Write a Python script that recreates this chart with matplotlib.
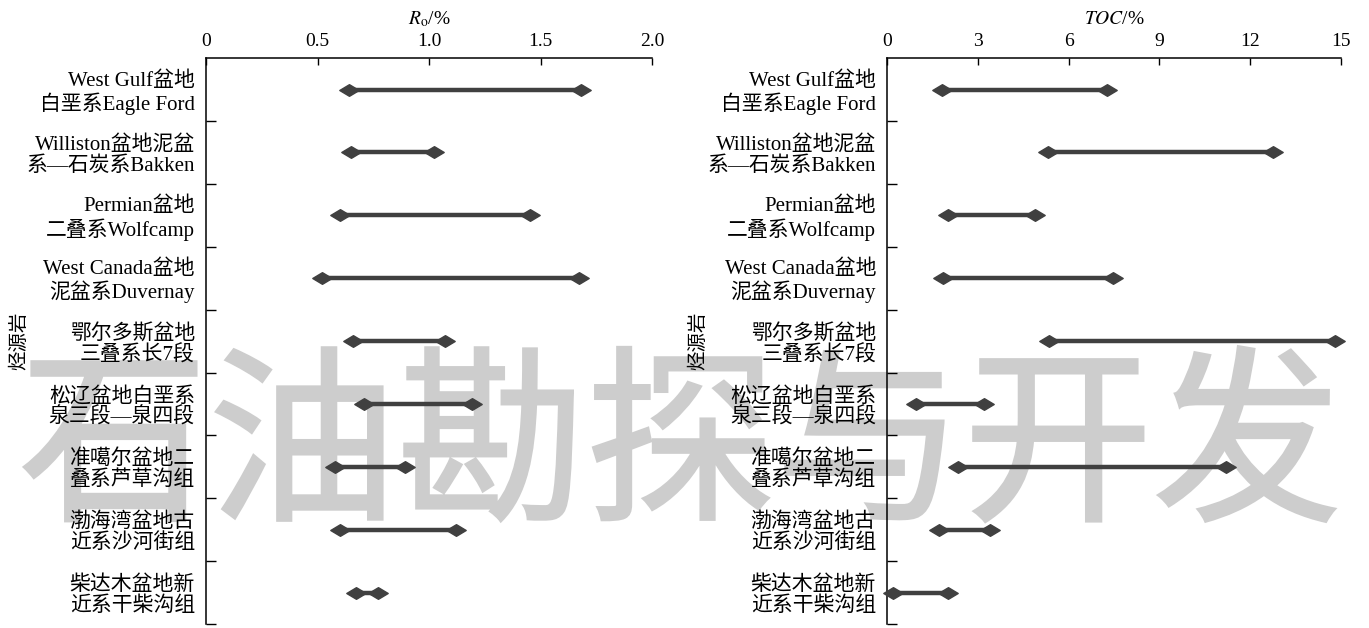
import matplotlib
matplotlib.use("Agg")
import matplotlib.pyplot as plt
import matplotlib.patheffects as pe
from matplotlib.path import Path

# Source rock names (top to bottom)
source_rocks = [
    "West Gulf盆地\n白垩系Eagle Ford",
    "Williston盆地泥盆\n系—石炭系Bakken",
    "Permian盆地\n二叠系Wolfcamp",
    "West Canada盆地\n泥盆系Duvernay",
    "鄂尔多斯盆地\n三叠系长7段",
    "松辽盆地白垩系\n泉三段—泉四段",
    "准噶尔盆地二\n叠系芦草沟组",
    "渤海湾盆地古\n近系沙河街组",
    "柴达木盆地新\n近系干柴沟组",
]

# Ro range (%)
ro_min = [0.64, 0.65, 0.60, 0.52, 0.66, 0.71, 0.58, 0.60, 0.67]
ro_max = [1.68, 1.02, 1.45, 1.67, 1.07, 1.19, 0.89, 1.12, 0.77]

# TOC range (%)
toc_min = [1.8, 5.3, 2.0, 1.85, 5.35, 0.95, 2.35, 1.7, 0.2]
toc_max = [7.25, 12.75, 4.9, 7.45, 14.8, 3.2, 11.2, 3.4, 2.0]

ro_ticks = [0, 0.5, 1.0, 1.5, 2.0]
ro_ticklabels = ["0", "0.5", "1.0", "1.5", "2.0"]
toc_ticks = [0, 3, 6, 9, 12, 15]

plt.rcParams['font.family'] = ['Liberation Serif', 'Noto Sans CJK SC']
plt.rcParams['mathtext.fontset'] = 'stix'

BAR_COLOR = '#404040'
WATERMARK_COLOR = '#cdcdcd'
# wide diamond marker like the original figure
diamond = Path([(-1, 0), (0, 0.6), (1, 0), (0, -0.6), (-1, 0)],
               [Path.MOVETO, Path.LINETO, Path.LINETO, Path.LINETO, Path.CLOSEPOLY])

fig = plt.figure(figsize=(13.69, 6.28), dpi=100)
ax1 = fig.add_axes([0.1505, 0.0064, 0.326, 0.901])
ax2 = fig.add_axes([0.648, 0.0064, 0.3316, 0.901])


def draw_panel(ax, lo, hi, xmax, ticks, ticklabels, xlabel):
    ax.set_facecolor('none')
    n = len(source_rocks)
    for i in range(n):
        ax.plot([lo[i], hi[i]], [i, i], '-', color=BAR_COLOR, linewidth=3.2,
                marker=diamond, markersize=14, markerfacecolor=BAR_COLOR,
                markeredgecolor=BAR_COLOR, clip_on=False, zorder=3)

    ax.set_xlim(0, xmax)
    ax.set_ylim(n - 0.5, -0.5)

    # x axis on top
    ax.xaxis.tick_top()
    ax.xaxis.set_label_position('top')
    ax.set_xticks(ticks)
    ax.set_xticklabels(ticklabels)
    ax.tick_params(axis='x', direction='in', length=5, width=1, labelsize=14, pad=6)
    ax.set_xlabel(xlabel, fontsize=14, labelpad=6)

    # category boundaries get ticks, labels sit between them
    ax.set_yticks([i + 0.5 for i in range(n)])
    ax.set_yticklabels([])
    ax.set_yticks(list(range(n)), minor=True)
    ax.set_yticklabels(source_rocks, minor=True, fontsize=15, linespacing=1.1)
    ax.tick_params(axis='y', which='major', direction='in', length=7, width=1)
    ax.tick_params(axis='y', which='minor', length=0, pad=8)

    ax.set_ylabel('烃源岩', fontsize=14, family=['Noto Sans CJK SC'])
    ax.yaxis.set_label_coords(-0.395, 0.5)

    for side in ['right', 'bottom']:
        ax.spines[side].set_visible(False)
    for side in ['left', 'top']:
        ax.spines[side].set_linewidth(1.1)


draw_panel(ax1, ro_min, ro_max, 2.0, ro_ticks, ro_ticklabels, r'$R_{\mathrm{o}}$/%')
draw_panel(ax2, toc_min, toc_max, 15, toc_ticks, [str(t) for t in toc_ticks], r'$TOC$/%')

# journal watermark behind the plots (regular weight, thickened a little)
fig.text(0.497, 0.28, '石油勘探与开发', fontsize=136, color=WATERMARK_COLOR,
         ha='center', va='center', family=['Noto Sans CJK SC'], zorder=-1,
         path_effects=[pe.withStroke(linewidth=2, foreground=WATERMARK_COLOR,
                                     joinstyle='miter')])

fig.savefig('out.png', dpi=100)
